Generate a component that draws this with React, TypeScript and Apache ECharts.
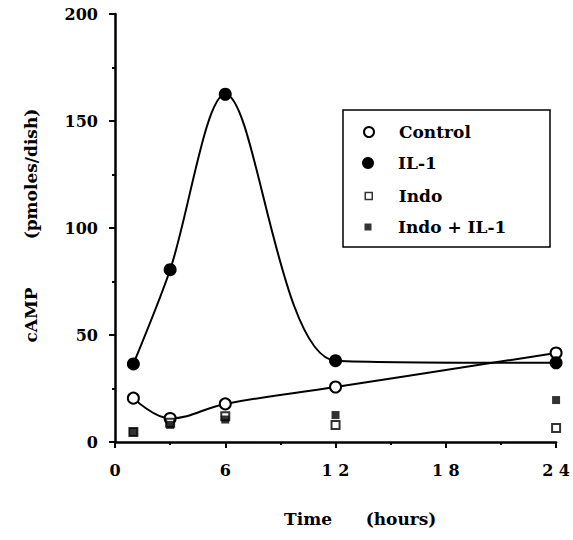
import React, { useEffect, useRef } from "react";
import * as echarts from "echarts";

const hours = [1, 3, 6, 12, 24];
const control = [20.5, 11, 17.8, 25.7, 41.6];
const il1 = [36.5, 80.5, 162.5, 38, 37];
const indo = [4.7, 9, 12, 8, 6.5];
const indoIl1 = [4.7, 8, 10.5, 12.6, 19.6];

const seriesNames = ["Control", "IL-1", "Indo", "Indo + IL-1"];
const xTickValues = [0, 6, 12, 18, 24];
const xTickLabels = ["0", "6", "1 2", "1 8", "2 4"];
const xTitleParts = ["Time", "(hours)"];
const yTitleParts = ["cAMP", "(pmoles/dish)"];

const FONT = "'DejaVu Serif', 'Liberation Serif', serif";

const pts = (vals: number[]) => vals.map((v, i) => [hours[i], v]);

export default function App() {
  const ref = useRef<HTMLDivElement>(null);
  useEffect(() => {
    if (!ref.current) return;
    const chart = echarts.init(ref.current, null, { renderer: "svg" });
    const legendSizes = [10, 12, 7, 7];
    const legendIcons = ["circle", "circle", "rect", "rect"];
    const legendStyles = [
      { color: "#fff", borderColor: "#000", borderWidth: 2 },
      { color: "#000", borderWidth: 0 },
      { color: "#fff", borderColor: "#000", borderWidth: 1.5 },
      { color: "#000", borderWidth: 0 },
    ];
    const rowY = [132, 163, 196, 227];
    const symX = 368;
    const textX = 398;
    const xTitleX = [308, 401];
    const yTitleY = [315, 174];
    const titleFont = `bold 17px ${FONT}`;
    chart.setOption({
      animation: false,
      backgroundColor: "#fff",
      grid: { left: 115, right: 16, top: 14, bottom: 98 },
      xAxis: {
        type: "value",
        min: 0,
        max: 24,
        interval: 6,
        axisLine: { lineStyle: { color: "#000", width: 2.5 } },
        axisTick: { length: 6, lineStyle: { color: "#000", width: 2 } },
        minorTick: { show: true, splitNumber: 2, length: 3, lineStyle: { color: "#000", width: 2 } },
        splitLine: { show: false },
        axisLabel: {
          margin: 20,
          color: "#000",
          fontFamily: FONT,
          fontWeight: "bold",
          fontSize: 16,
          formatter: (v: number) => {
            const i = xTickValues.indexOf(v);
            return i >= 0 ? xTickLabels[i] : "";
          },
        },
      },
      yAxis: {
        type: "value",
        min: 0,
        max: 200,
        interval: 50,
        axisLine: { show: true, lineStyle: { color: "#000", width: 2.5 } },
        axisTick: { show: true, length: 6, lineStyle: { color: "#000", width: 2 } },
        minorTick: { show: true, splitNumber: 2, length: 3, lineStyle: { color: "#000", width: 2 } },
        splitLine: { show: false },
        axisLabel: {
          margin: 17,
          color: "#000",
          fontFamily: FONT,
          fontWeight: "bold",
          fontSize: 16,
        },
      },
      legend: seriesNames.map((name, i) => ({
        data: [{ name, icon: legendIcons[i], itemStyle: legendStyles[i] }],
        left: symX - legendSizes[i] / 2,
        top: rowY[i] - 10,
        itemWidth: legendSizes[i],
        itemHeight: legendSizes[i],
        padding: 0,
        selectedMode: false,
        textStyle: {
          color: "#000",
          fontFamily: FONT,
          fontWeight: "bold",
          fontSize: 17,
          lineHeight: 20,
          padding: [0, 0, 0, textX - (symX + legendSizes[i] / 2) - 5],
        },
      })),
      graphic: [
        {
          type: "rect",
          shape: { x: 343, y: 110, width: 207, height: 137 },
          style: { fill: "none", stroke: "#000", lineWidth: 1.5 },
          silent: true,
        },
        ...xTitleParts.map((t, i) => ({
          type: "text",
          x: xTitleX[i],
          y: 519,
          style: {
            text: t,
            align: "center",
            verticalAlign: "middle",
            fill: "#000",
            font: titleFont,
          },
        })),
        ...yTitleParts.map((t, i) => ({
          type: "text",
          x: 31,
          y: yTitleY[i],
          rotation: Math.PI / 2,
          style: {
            text: t,
            align: "center",
            verticalAlign: "middle",
            fill: "#000",
            font: titleFont,
          },
        })),
      ],
      series: [
        {
          name: "Control",
          type: "line",
          data: pts(control),
          smooth: 0.4,
          symbol: "emptyCircle",
          symbolSize: 11,
          itemStyle: { color: "#000", borderWidth: 2 },
          lineStyle: { color: "#000", width: 2 },
          emphasis: { disabled: true },
          z: 3,
        },
        {
          name: "IL-1",
          type: "line",
          data: pts(il1),
          smooth: 0.3,
          symbol: "circle",
          symbolSize: 13,
          itemStyle: { color: "#000" },
          lineStyle: { color: "#000", width: 2 },
          emphasis: { disabled: true },
          z: 3,
        },
        {
          name: "Indo",
          type: "scatter",
          data: pts(indo),
          symbol: "emptyRect",
          symbolSize: 8,
          itemStyle: { color: "#000", borderColor: "#000", borderWidth: 1.5 },
          emphasis: { disabled: true },
          z: 4,
        },
        {
          name: "Indo + IL-1",
          type: "scatter",
          data: pts(indoIl1),
          symbol: "rect",
          symbolSize: 8,
          itemStyle: { color: "#000" },
          emphasis: { disabled: true },
          z: 5,
        },
      ],
    });
    return () => chart.dispose();
  }, []);
  return (
    <div
      ref={ref}
      style={{ position: "fixed", left: 0, top: 0, width: 573, height: 540 }}
    />
  );
}
